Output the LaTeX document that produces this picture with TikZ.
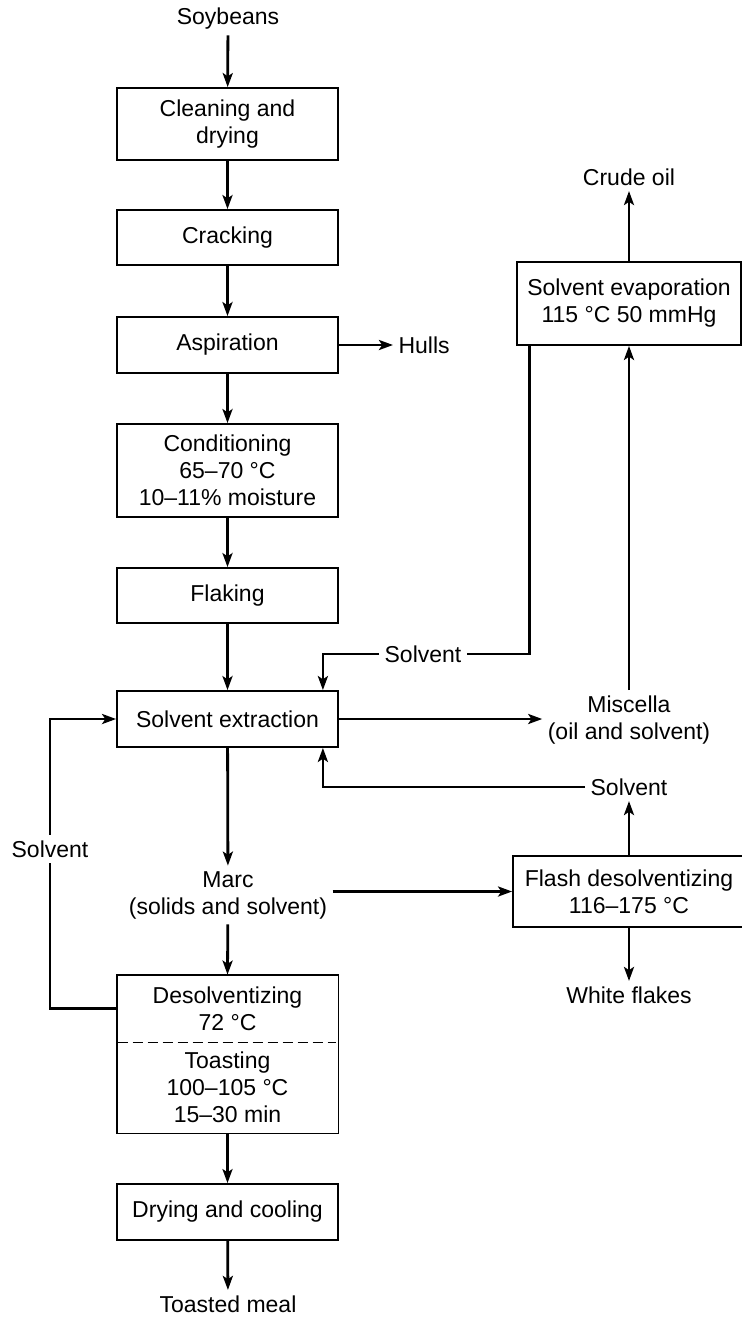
\documentclass[tikz,border=0pt]{standalone}
\usepackage{fontspec}
\setmainfont{Liberation Sans}
\usetikzlibrary{arrows.meta}
\tikzset{
  procbox/.style={
    draw,
    line width=0.9pt,
    align=center,
    inner sep=0pt,
    minimum width=110.5pt,
    minimum height=27.5pt
  },
  flow/.style={-{Stealth[length=7pt,width=5pt,inset=1.6pt]},line width=1.4pt},
  plainflow/.style={line width=1.4pt}
}

\begin{document}
\begin{tikzpicture}[
  x=0.5pt,y=-0.5pt,
  every node/.style={font=\fontsize{11.5}{13.5}\selectfont},
  label/.style={align=center,inner sep=2.6pt}
]
  \useasboundingbox (0,0) rectangle (742,1318);

  % main column
  \node[label] (soy) at (228,19) {Soybeans};
  \node[procbox,minimum height=36pt] (clean) at (227.5,124) {Cleaning and\\drying};
  \node[procbox] (crack) at (227.5,237.5) {Cracking};
  \node[procbox,minimum height=28pt] (aspir) at (227.5,345) {Aspiration};
  \node[label,anchor=west] (hulls) at (393,345) {Hulls};
  \node[procbox,minimum height=46.5pt] (cond) at (227.5,470.5) {Conditioning\\65–70 °C\\10–11\% moisture};
  \node[procbox] (flake) at (227.5,595.5) {Flaking};
  \node[procbox,minimum height=28pt] (extract) at (227.5,719) {Solvent extraction};
  \node[label] (marc) at (228,895) {Marc\\(solids and solvent)};
  \node[align=center,inner sep=0pt,minimum width=110.5pt,minimum height=33.5pt] (desolv) at (227.5,1008.5) {Desolventizing\\72 °C};
  \node[align=center,inner sep=0pt,minimum width=110.5pt,minimum height=45.5pt] (toast) at (227.5,1087.5) {Toasting\\100–105 °C\\15–30 min};
  \node[procbox,minimum height=28pt] (drycool) at (227.5,1212) {Drying and cooling};
  \node[label] (meal) at (228,1304) {Toasted meal};

  % right column
  \node[label] (crude) at (629,177) {Crude oil};
  \node[procbox,minimum width=112pt,minimum height=41.5pt] (evap) at (629,303.5) {Solvent evaporation\\115 °C 50 mmHg};
  \node[label] (solvtop) at (423,654) {Solvent};
  \node[label] (miscella) at (629,720) {Miscella\\(oil and solvent)};
  \node[label] (solvmid) at (629,787) {Solvent};
  \node[procbox,minimum width=116pt,minimum height=35.5pt] (flash) at (629,891.5) {Flash desolventizing\\116–175 °C};
  \node[label] (white) at (629,995) {White flakes};
  \node[label] (solvleft) at (50,849) {Solvent};

  \draw[line width=0.9pt] (desolv.north west) rectangle (toast.south east);
  \draw[line width=0.8pt,dash pattern=on 5pt off 2.5pt] ([xshift=0.5pt]desolv.south west) -- ([xshift=-1pt]desolv.south east);

  \draw[flow] (soy) -- (clean);
  \draw[flow] (clean) -- (crack);
  \draw[flow] (crack) -- (aspir);
  \draw[flow] (aspir) -- (hulls);
  \draw[flow] (aspir) -- (cond);
  \draw[flow] (cond) -- (flake);
  \draw[flow] (flake) -- (extract);
  \draw[flow] (extract) -- (marc);
  \draw[flow] (marc) -- (desolv.north);
  \draw[flow] (toast.south) -- (drycool);
  \draw[flow] (drycool) -- (meal);

  \draw[flow] (evap) -- (crude);
  \draw[flow] (miscella) -- (evap);
  \draw[flow] (extract.east) -- (extract.east -| miscella.west);
  \draw[plainflow] ([xshift=6.5pt]evap.south west) |- (solvtop);
  \draw[flow] (solvtop) -| ([xshift=-8pt]extract.north east);
  \draw[flow] (solvmid) -| ([xshift=-8pt]extract.south east);
  \draw[flow] (flash) -- (solvmid);
  \draw[flow] (flash) -- (white);
  \draw[flow] (marc.east |- flash.west) -- (flash.west);
  \draw[flow] (desolv.west) -| (solvleft) |- (extract.west);
\end{tikzpicture}
\end{document}
